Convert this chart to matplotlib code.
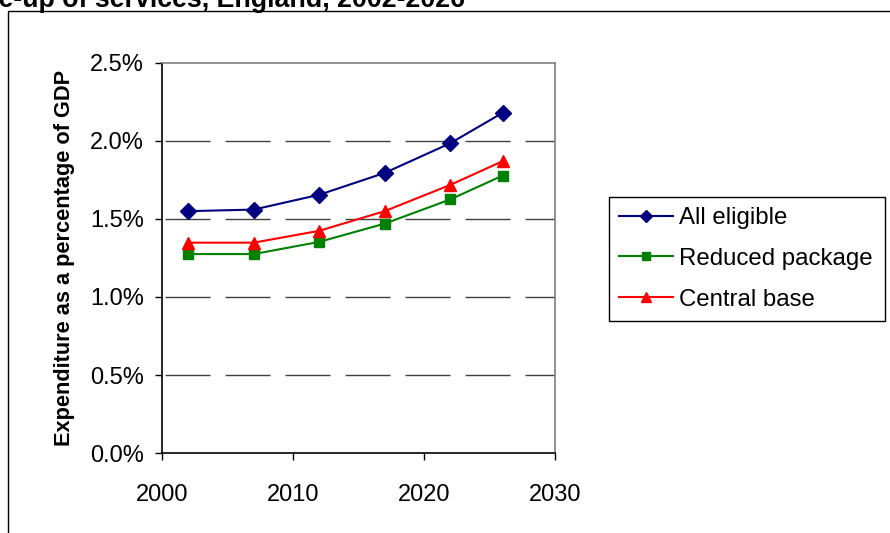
import matplotlib
matplotlib.use("Agg")
import matplotlib.pyplot as plt
from matplotlib.patches import Rectangle

# Data (expenditure as % of GDP)
years = [2002, 2007, 2012, 2017, 2022, 2026]
all_eligible = [1.55, 1.56, 1.655, 1.795, 1.985, 2.18]
reduced_package = [1.275, 1.275, 1.353, 1.47, 1.625, 1.778]
central_base = [1.348, 1.348, 1.424, 1.55, 1.718, 1.87]

x_ticks = [2000, 2010, 2020, 2030]
y_ticks = [0.0, 0.5, 1.0, 1.5, 2.0, 2.5]

plt.rcParams['font.family'] = ['Liberation Sans', 'DejaVu Sans']

fig = plt.figure(figsize=(8.9, 5.33), dpi=100)
ax = fig.add_axes([0.182, 0.150, 0.4416, 0.732])

# outer chart border (cropped at right and bottom)
fig.patches.append(Rectangle((8 / 890, -0.05), 1.0, 1 - 11 / 533 + 0.05,
                             transform=fig.transFigure, fill=False,
                             edgecolor='black', linewidth=1.0))

# title, cut off at the top-left like the reference
fig.text(465 / 890, 1 - 7 / 533,
         "Projected expenditure under alternative take-up of services, England, 2002-2026",
         ha='right', va='baseline', fontsize=19.3, fontweight='bold')

ax.plot(years, all_eligible, color='#000080', marker='D', markersize=8,
        linewidth=1.5, label='All eligible')
ax.plot(years, reduced_package, color='#008000', marker='s', markersize=7.5,
        linewidth=1.5, label='Reduced package')
ax.plot(years, central_base, color='#FF0000', marker='^', markersize=9,
        linewidth=1.5, label='Central base')

ax.set_xlim(2000, 2030)
ax.set_ylim(0, 2.5)
ax.set_xticks(x_ticks)
ax.set_yticks(y_ticks)
ax.set_yticklabels([f"{v:.1f}%" for v in y_ticks])
ax.tick_params(axis='both', direction='out', length=5, width=1, labelsize=17)
ax.tick_params(axis='y', pad=8)
ax.tick_params(axis='x', pad=17)

for v in y_ticks[1:-1]:
    ax.axhline(v, color='#404040', linewidth=1.0, linestyle=(41, (32.4, 10.8)), zorder=0)

ax.spines['left'].set_color('black')
ax.spines['bottom'].set_color('black')
ax.spines['top'].set_color('#808080')
ax.spines['right'].set_color('#808080')
for s in ax.spines.values():
    s.set_linewidth(1.2)

ax.set_ylabel("Expenditure as a percentage of GDP", fontsize=15.7, fontweight='bold')
ax.yaxis.set_label_coords(-0.222, 0.5)

leg = ax.legend(loc='upper left', bbox_to_anchor=(609 / 890, 1 - 197 / 533, 276 / 890, 0.0),
                bbox_transform=fig.transFigure, mode='expand', fontsize=17.3,
                frameon=True, fancybox=False, edgecolor='black', framealpha=1,
                markerscale=0.8, handlelength=2.25, handletextpad=0.25,
                borderpad=0.42, labelspacing=0.78, borderaxespad=0)
leg.get_frame().set_linewidth(1.0)

fig.savefig("out.png", dpi=100)
